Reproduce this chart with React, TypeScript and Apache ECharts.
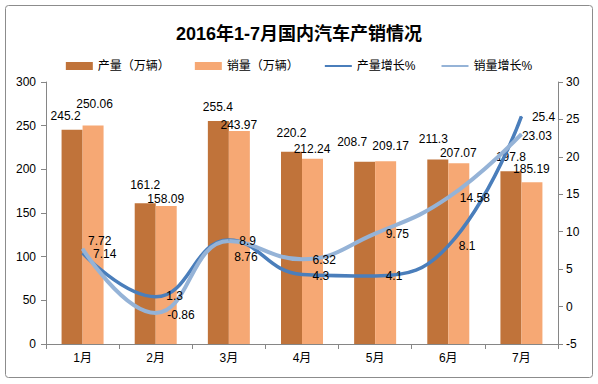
import React, { useEffect, useRef } from "react";
import * as echarts from "echarts";

const title = "2016年1-7月国内汽车产销情况";
const months = ["1月", "2月", "3月", "4月", "5月", "6月", "7月"];
const seriesNames = ["产量（万辆）", "销量（万辆）", "产量增长%", "销量增长%"];
const production = [245.2, 161.2, 255.4, 220.2, 208.7, 211.3, 197.8];
const sales = [250.06, 158.09, 243.97, 212.24, 209.17, 207.07, 185.19];
const productionGrowth = [7.14, 1.3, 8.9, 4.3, 4.1, 8.1, 25.4];
const salesGrowth = [7.72, -0.86, 8.76, 6.32, 9.75, 14.58, 23.03];
const leftAxis = { min: 0, max: 300, interval: 50 };
const rightAxis = { min: -5, max: 30, interval: 5 };

// label placement (style only): label centre relative to each bar's top-left corner
const prodLabelPos = [[4, -14], [10.5, -18], [10, -13.5], [10.5, -19], [-2, -19.5], [6, -20.5], [10.5, -14]];
const salesLabelPos = [[12, -21.5], [10, -7], [10, -6], [10, -9.5], [15.5, -15], [10, -10], [10, -13]];
// label nudges for the growth lines (style only)
const pgLabelOffset = [[0, 1], [0, -1], [0, 1], [0, 1.5], [0, 0], [0, 0], [0, 0.5]];
const sgLabelOffset = [[-5, -8], [1, 2], [-5, 16], [0, 1], [0, 0.5], [1, 0.5], [-10, 2]];

const FONT = "'Liberation Sans', 'Noto Sans CJK SC', sans-serif";
const C_PROD = "#C0733A";
const C_SALES = "#F6A874";
const C_PG = "#4A7EBB";
const C_SG = "#95B3D7";

export default function App() {
  const ref = useRef<HTMLDivElement>(null);
  useEffect(() => {
    if (!ref.current) return;
    const chart = echarts.init(ref.current, undefined, { renderer: "svg" });
    const axisLine = { show: true, lineStyle: { color: "#868686", width: 1 } };
    const axisLabel = { color: "#000", fontFamily: FONT, fontSize: 12 };
    const labelText = { color: "#000", fontSize: 12, fontFamily: FONT };
    chart.setOption({
      animation: false,
      backgroundColor: "#fff",
      textStyle: { fontFamily: FONT },
      title: {
        text: title,
        left: "center",
        top: 20,
        textStyle: { fontSize: 18, fontWeight: "bold", color: "#000", fontFamily: FONT },
      },
      legend: {
        top: 55,
        left: "center",
        itemWidth: 27,
        itemHeight: 8,
        itemGap: 25,
        textStyle: { fontSize: 12, color: "#000", fontFamily: FONT },
        data: [
          { name: seriesNames[0], icon: "rect" },
          { name: seriesNames[1], icon: "rect" },
          { name: seriesNames[2], itemStyle: { opacity: 0 } },
          { name: seriesNames[3], itemStyle: { opacity: 0 } },
        ],
      },
      graphic: [
        {
          type: "rect",
          shape: { x: 5.5, y: 5.5, width: 587, height: 372, r: 3 },
          style: { fill: "none", stroke: "#8c8c8c", lineWidth: 1 },
          silent: true,
        },
      ],
      grid: { left: 46, right: 40, top: 82, bottom: 40 },
      xAxis: {
        type: "category",
        data: months,
        axisLine,
        axisTick: { show: true, alignWithLabel: false, length: 5, lineStyle: { color: "#868686" } },
        axisLabel: { ...axisLabel, margin: 8 },
      },
      yAxis: [
        {
          type: "value",
          ...leftAxis,
          axisLine,
          axisTick: { show: true, length: 5, lineStyle: { color: "#868686" } },
          splitLine: { show: false },
          axisLabel: { ...axisLabel, margin: 10 },
        },
        {
          type: "value",
          ...rightAxis,
          position: "right",
          axisLine,
          axisTick: { show: true, length: 5, lineStyle: { color: "#868686" } },
          splitLine: { show: false },
          axisLabel: { ...axisLabel, margin: 8 },
        },
      ],
      series: [
        {
          name: seriesNames[0],
          type: "bar",
          data: production.map((v, i) => ({
            value: v,
            label: { position: prodLabelPos[i] },
          })),
          barWidth: 21,
          barGap: "0%",
          itemStyle: { color: C_PROD },
          label: { show: true, align: "center", verticalAlign: "middle", ...labelText },
        },
        {
          name: seriesNames[1],
          type: "bar",
          data: sales.map((v, i) => ({
            value: v,
            label: { position: salesLabelPos[i] },
          })),
          barWidth: 21,
          barGap: "0%",
          itemStyle: { color: C_SALES },
          label: { show: true, align: "center", verticalAlign: "middle", ...labelText },
        },
        {
          name: seriesNames[2],
          type: "line",
          yAxisIndex: 1,
          data: productionGrowth.map((v, i) => ({
            value: v,
            label: { offset: pgLabelOffset[i] },
          })),
          smooth: 0.45,
          symbol: "circle",
          symbolSize: 1,
          itemStyle: { color: C_PG },
          lineStyle: { color: C_PG, width: 3.5 },
          label: { show: true, position: "right", distance: 10, ...labelText },
        },
        {
          name: seriesNames[3],
          type: "line",
          yAxisIndex: 1,
          data: salesGrowth.map((v, i) => ({
            value: v,
            label: { offset: sgLabelOffset[i] },
          })),
          smooth: 0.45,
          symbol: "circle",
          symbolSize: 1,
          itemStyle: { color: C_SG },
          lineStyle: { color: C_SG, width: 4 },
          label: { show: true, position: "right", distance: 10, ...labelText },
        },
      ],
    });
    return () => chart.dispose();
  }, []);
  return (
    <div
      ref={ref}
      style={{ position: "absolute", left: 0, top: 0, width: 598, height: 384 }}
    />
  );
}
